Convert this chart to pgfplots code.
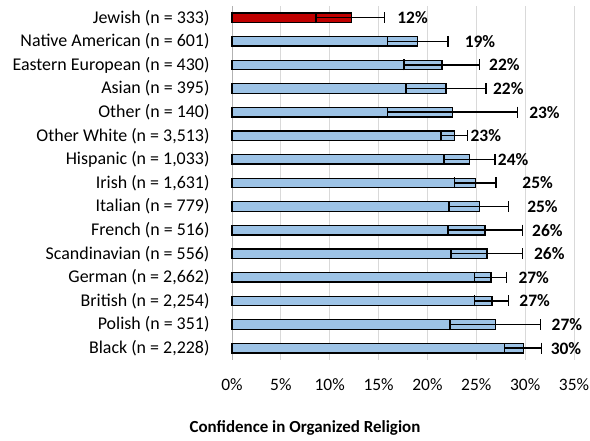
\documentclass[border=0pt]{standalone}
\usepackage{pgfplots}
\pgfplotsset{compat=1.18}
\usepackage{fontspec}
\setmainfont{Carlito}
\definecolor{barblue}{HTML}{9DC3E6}
\definecolor{barred}{HTML}{C00000}
\definecolor{gridgray}{HTML}{D9D9D9}
\begin{document}
\begin{tikzpicture}[x=1bp,y=1bp,font=\fontsize{17}{20}\selectfont]
\path[use as bounding box] (0,0) rectangle (590,441);
\begin{axis}[
  at={(232bp,81bp)}, anchor=south west,
  scale only axis, width=342bp, height=354bp,
  xmin=0, xmax=35, ymin=-0.5, ymax=14.5,
  xtick={0,5,10,15,20,25,30,35},
  xticklabels={0\%,5\%,10\%,15\%,20\%,25\%,30\%,35\%},
  ytick={0,...,14},
  yticklabels={{Black (n = 2,228)},{Polish (n = 351)},{British (n = 2,254)},{German (n = 2,662)},{Scandinavian (n = 556)},{French (n = 516)},{Italian (n = 779)},{Irish (n = 1,631)},{Hispanic (n = 1,033)},{Other White (n = 3,513)},{Other (n = 140)},{Asian (n = 395)},{Eastern European (n = 430)},{Native American (n = 601)},{Jewish (n = 333)}},
  xticklabel style={font=\fontsize{17.5}{20}\selectfont, yshift=-15bp},
  yticklabel style={font=\fontsize{18}{20}\selectfont, anchor=east, xshift=-19bp},
  tick style={draw=none},
  xmajorgrids, grid style={gridgray, line width=1bp},
  axis lines*=left,
  x axis line style={draw=none},
  y axis line style={draw=black!30, line width=1bp},
  clip=false,
]
\addplot[xbar, bar width=9.5bp, bar shift=0pt, fill=barblue, draw=black, line width=1.3bp,
  error bars/.cd, x dir=both, x explicit,
  error bar style={line width=1.4bp, black},
  error mark options={rotate=90, line width=1.4bp, black, mark size=5.5bp}]
coordinates {
 (29.8,0) += (1.9,0) -= (1.9,0)
 (27.0,1) += (4.6,0) -= (4.7,0)
 (26.6,2) += (1.7,0) -= (1.8,0)
 (26.5,3) += (1.6,0) -= (1.7,0)
 (26.1,4) += (3.6,0) -= (3.7,0)
 (25.9,5) += (3.8,0) -= (3.8,0)
 (25.3,6) += (3.0,0) -= (3.1,0)
 (24.9,7) += (2.1,0) -= (2.1,0)
 (24.3,8) += (2.6,0) -= (2.6,0)
 (22.8,9) += (1.3,0) -= (1.4,0)
 (22.6,10) += (6.6,0) -= (6.7,0)
 (21.9,11) += (4.1,0) -= (4.1,0)
 (21.5,12) += (3.8,0) -= (3.9,0)
 (19.0,13) += (3.1,0) -= (3.1,0)
};
\addplot[xbar, bar width=9.5bp, bar shift=0pt, fill=barred, draw=black, line width=1.3bp,
  error bars/.cd, x dir=both, x explicit,
  error bar style={line width=1.4bp, black},
  error mark options={rotate=90, line width=1.4bp, black, mark size=5.5bp}]
coordinates {
 (12.2,14) += (3.4,0) -= (3.6,0)
};
\addplot[draw=none, mark=none, nodes near coords, point meta=explicit symbolic,
  nodes near coords style={anchor=west, inner sep=0pt, font=\fontsize{17.5}{20}\selectfont\bfseries}]
coordinates {
 (32.6,0) [30\%]
 (32.7,1) [27\%]
 (29.4,2) [27\%]
 (29.3,3) [27\%]
 (30.9,4) [26\%]
 (30.7,5) [26\%]
 (30.2,6) [25\%]
 (29.7,7) [25\%]
 (27.2,8) [24\%]
 (24.4,9) [23\%]
 (30.4,10) [23\%]
 (26.7,11) [22\%]
 (26.3,12) [22\%]
 (23.8,13) [19\%]
 (16.9,14) [12\%]
};
\end{axis}
\node[font=\fontsize{17}{20}\selectfont\bfseries] at (305,13) {Confidence in Organized Religion};
\end{tikzpicture}
\end{document}
